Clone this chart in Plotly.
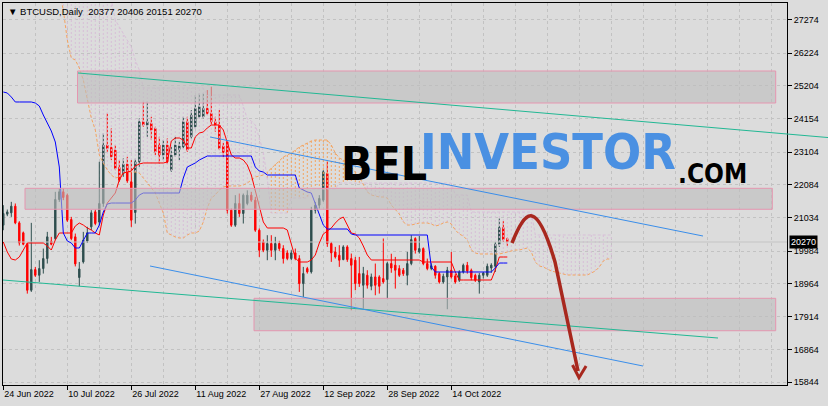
import pandas as pd
import plotly.graph_objects as go

# ---------------- data ----------------
start = pd.Timestamp("2022-06-24")

opens = [20800, 21148, 21190, 21400, 20874, 20560, 20200, 18747, 19400, 19220, 19432, 19748, 20295, 20379, 21611, 21853,
         21748, 20980, 20432, 19150, 19643, 20300, 20748, 21222, 20900, 21485, 23327, 23253, 23169, 22621, 22432, 22727,
         22169, 21200, 22800, 24063, 23958, 24011, 23853, 23327, 23011, 23327, 22537, 23011, 23190, 23274, 24063, 23590,
         23906, 24221, 24221, 24485, 24327, 24063, 23958, 23300, 23432, 21274, 20800, 21485, 21169, 21485, 21748, 21590,
         20643, 20274, 20011, 20221, 20011, 20221, 20064, 19927, 19748, 19927, 19748, 18958, 19432, 19327, 21274, 21432,
         21590, 22432, 20221, 19958, 19853, 19716, 20116, 19748, 19695, 19274, 18906, 19221, 18874, 19169, 19169, 19116,
         19085, 19590, 19540, 19431, 19380, 19220, 19589, 20379, 19958, 20063, 19589, 19431, 19505, 19273, 19010, 19168,
         19379, 19200, 19063, 19326, 19537, 19379, 19220, 19010, 19220, 19220, 19450, 19505, 20200, 20726, 20377]
highs = [21432, 21295, 21537, 21485, 20927, 20600, 20240, 20874, 19484, 19695, 20063, 20590, 20432, 21853, 21958, 21958,
         21800, 21063, 20537, 19640, 20590, 20750, 21274, 21295, 22800, 23695, 24327, 23853, 23327, 22853, 22906, 22958,
         22853, 22900, 24169, 24695, 24700, 24221, 23906, 23590, 23485, 23537, 23274, 23590, 23432, 24221, 24221, 24432,
         24906, 24958, 24958, 25064, 25170, 24221, 24432, 23400, 23485, 21327, 21748, 21800, 21800, 21900, 21853, 21695,
         20700, 20350, 20485, 20485, 20432, 20306, 20169, 20011, 20011, 20064, 19853, 19485, 19485, 21380, 21537, 21748,
         22537, 22800, 20274, 20116, 20169, 20169, 20169, 19906, 19800, 19800, 19485, 19380, 19274, 19590, 19221, 20380,
         19643, 19900, 19800, 19537, 19450, 19958, 20484, 20420, 20460, 20100, 19747, 19600, 19537, 19326, 19273, 19484,
         19958, 19270, 19379, 19589, 19642, 19431, 19273, 19294, 19326, 19589, 19600, 20273, 21010, 20926, 20406]
lows = [20642, 21084, 21063, 20832, 20158, 20168, 18642, 18695, 19168, 19011, 19274, 19590, 20168, 20327, 21537, 21590,
        20905, 20327, 19500, 18874, 19590, 20240, 20642, 20800, 20800, 21380, 23116, 22853, 22537, 22169, 22327, 22137,
        20748, 20850, 22643, 23906, 23590, 23485, 23011, 22748, 22853, 22727, 22485, 22958, 22853, 23221, 23116, 23537,
        23853, 24169, 24169, 24274, 23958, 23750, 23169, 22950, 21169, 20748, 20748, 21063, 20853, 21430, 21537, 20590,
        19800, 19950, 19695, 19800, 19695, 19990, 19590, 19695, 19695, 19695, 18695, 18537, 19274, 19274, 21169, 21327,
        21537, 20116, 19643, 19748, 19485, 19695, 19643, 18116, 18748, 18853, 18169, 18800, 18748, 18590, 18643, 18958,
        18485, 19300, 18800, 19168, 19200, 18905, 19537, 19905, 19905, 19537, 19378, 19380, 19115, 18957, 18957, 18150,
        19115, 18957, 19010, 19273, 19273, 19063, 19010, 18642, 19115, 19168, 19300, 19326, 20116, 20273, 20151]
closes = [21170, 21220, 21400, 20874, 20240, 20200, 18747, 19400, 19220, 19432, 19748, 20432, 20200, 21611, 21853, 21674,
          20958, 20379, 19580, 19420, 20327, 20560, 21190, 20853, 21485, 23327, 23221, 22958, 22590, 22222, 22727, 22200,
          20958, 22800, 24063, 23958, 24063, 23800, 23116, 23011, 23327, 22800, 23011, 23327, 23300, 24063, 23169, 24274,
          24485, 24537, 24485, 24327, 24063, 23958, 23221, 23100, 21274, 20800, 21485, 21169, 21748, 21748, 21590, 20643,
          20011, 20011, 20221, 20011, 20221, 20064, 19748, 19748, 19927, 19748, 18958, 19274, 19327, 21274, 21432, 21643,
          22485, 20221, 19927, 19800, 19695, 20116, 19716, 19537, 18958, 18958, 19274, 18906, 19169, 18906, 18874, 19011,
          19590, 19450, 19380, 19220, 19270, 19589, 20347, 20010, 20063, 19589, 19431, 19520, 19220, 19010, 19189, 19379,
          19168, 19010, 19326, 19537, 19357, 19147, 19063, 19220, 19294, 19505, 19540, 20200, 20726, 20347, 20270]

tenkan = ([20270, 19955, 19734, 19702, 19797, 20018, 20238, 20238, 20238, 20238, 20238, 20144, 20018, 20333, 20554,
           20554, 20554, 20554, 20775, 20869, 20806, 20712, 20649, 20554, 20491, 21122, 21500, 21658, 21816, 22226,
           22447, 22478, 22510, 22668, 22731] + [22763] * 6 +
          [22794, 23457, 23551, 23551, 23488, 23236, 23236, 23583, 23709, 23740, 23867, 23961, 23961, 23961, 23804,
           23425, 23015, 22920, 22920, 22857, 22699, 22384, 21911, 21374, 20901] + [20712] * 5 +
          [20649, 20175, 19765, 19639, 19639, 19639, 19702, 19860, 20238, 20522, 20617, 20712, 20869, 20995, 21059,
           20806, 20554, 20522, 20396, 20144, 19860] + [19702] * 13 + [19639] * 8 + [19324] + [19071] * 9 +
          [19387] + [19797] * 3)
kijun = ([25002, 24971, 24845] + [24687] * 5 +
         [24655, 24561, 24277, 24024, 23772, 23425, 22636, 20554, 20302, 20238, 20081, 20081, 20333] + [20554] * 3 +
         [20806, 21216, 21469] + [21500] * 6 + [21595, 21753] + [21816] * 10 +
         [22289, 22636, 22699, 22763, 22857, 22920] + [22983] * 12 + [22636, 22510, 22478] + [22384] * 8 +
         [21974, 21911, 21848, 21816, 21500, 21122, 20806] + [20680] * 6 + [20522] + [20491] * 19 + [19481] +
         [19324] * 15 + [19449] + [19607] * 3)

span_start = 14  # first cloud bar (index from 24 Jun 2022)
span_a = ([28200, 27590, 26643, 26075, 26012, 25760, 25381, 24750, 24182, 23804, 23015, 22763, 22542, 22384, 22289,
           22321, 22447] + [22478] * 3 +
          [22447, 22289, 22131, 21974, 21816, 21500, 21185, 20554, 20491, 20428, 20396, 20396, 20491, 20554, 20554,
           20617, 20901, 21343, 21658, 21753, 21911, 22005] + [22037] * 4 +
          [22068, 22131, 22226, 22321, 22352, 22384, 22478, 22605, 22731, 22826, 22952, 23015, 23078, 23173, 23267,
           23330, 23393, 23457] + [23488] * 4 +
          [23330, 23078, 22920, 22857, 22763, 22636, 22478, 22321, 22100, 21848, 21753, 21721, 21690, 21690, 21658,
           21437, 21280, 21153, 20901, 20806, 20806, 20838] + [20869] * 3 +
          [20838, 20775, 20806, 20869, 20901, 20838, 20649, 20522, 20459, 20333, 20018, 19923] + [19892] * 6 +
          [19923, 19955, 19986, 20018, 20018, 20049, 20081, 19955, 19639, 19513, 19481, 19418, 19355, 19324, 19292,
           19261] + [19229] * 6 + [19292, 19355, 19481, 19670, 19734, 19734])
span_b = ([27900] * 14 + [27274, 27053, 26832, 26611, 26422, 26012, 25697] + [25129] * 16 + [24908] * 9 +
          [24561, 24151, 24088, 23961, 23551, 23109, 22257] + [21185] * 5 + [21658] * 5 + [21942] * 7 +
          [22131] * 29 + [21753] * 4 + [21216] * 16 + [20491] * 20)

y_ticks = [15844, 16864, 17914, 18964, 19984, 21034, 22084, 23104, 24154, 25204, 26224, 27274]
x_tick_dates = ["2022-06-24", "2022-07-10", "2022-07-26", "2022-08-11", "2022-08-27", "2022-09-12", "2022-09-28",
                "2022-10-14"]
x_tick_labels = ["24 Jun 2022", "10 Jul 2022", "26 Jul 2022", "11 Aug 2022", "27 Aug 2022", "12 Sep 2022",
                 "28 Sep 2022", "14 Oct 2022"]

# zones (x0 day, x1 day, price low, price high) and trend lines (day, price, day, price)
zones = [(18.55, 193.1, 24655, 25665), (5.425, 192.25, 21302, 21964), (62.675, 193.1, 17471, 18494)]
green_lines = [(18.675, 25602, 195.925, 23677), (-0.075, 19071, 178.675, 17241)]
blue_lines = [(51.675, 23583, 174.925, 20459), (36.675, 19513, 159.925, 16358)]
arrow_curve = [(127.175, 20238), (128.675, 20712), (130.425, 21153), (132.175, 21090), (134.175, 21027),
               (136.175, 20396), (137.925, 19639), (143.675, 16201)]
arrow_head = [(142.3, 16390), (143.925, 15990), (145.7, 16360)]

y_min, y_max = 15759, 27810
x_lo, x_hi = -0.075, 195.925

# ---------------- helpers ----------------
def day(i):
    return start + pd.Timedelta(days=i)

def dstr(i):
    return day(i).strftime("%Y-%m-%d %H:%M:%S")

def pstr(i):
    return day(i).strftime("%Y-%m-%d_%H:%M:%S")

dates = pd.date_range(start, periods=len(opens), freq="D")
cloud_dates = pd.date_range(day(span_start), periods=len(span_a), freq="D")

fig = go.Figure()

# cloud hatch
hx_up, hy_up, hx_dn, hy_dn = [], [], [], []
for d, a, b in zip(cloud_dates, span_a, span_b):
    if a >= b:
        hx_up += [d, d, None]
        hy_up += [a, b, None]
    else:
        hx_dn += [d, d, None]
        hy_dn += [a, b, None]
fig.add_trace(go.Scatter(x=hx_up, y=hy_up, mode="lines", line=dict(color="#F4A460", width=1, dash="2px,2px"),
                         hoverinfo="skip", showlegend=False))
fig.add_trace(go.Scatter(x=hx_dn, y=hy_dn, mode="lines", line=dict(color="#D8BFD8", width=1, dash="2px,2px"),
                         hoverinfo="skip", showlegend=False))
fig.add_trace(go.Scatter(x=cloud_dates, y=span_a, mode="lines", line=dict(color="#F4A460", width=1, dash="3px,2px"),
                         hoverinfo="skip", showlegend=False))
fig.add_trace(go.Scatter(x=cloud_dates, y=span_b, mode="lines", line=dict(color="#D8BFD8", width=1, dash="3px,2px"),
                         hoverinfo="skip", showlegend=False))

# bid line
fig.add_trace(go.Scatter(x=[day(x_lo), day(x_hi)], y=[closes[-1]] * 2, mode="lines",
                         line=dict(color="#C4C4C4", width=1), hoverinfo="skip", showlegend=False))

fig.add_trace(go.Candlestick(
    x=dates, open=opens, high=highs, low=lows, close=closes,
    increasing=dict(line=dict(color="#2F4F4F", width=1), fillcolor="#2F4F4F"),
    decreasing=dict(line=dict(color="#FF0000", width=1), fillcolor="#FF0000"),
    whiskerwidth=0, hoverinfo="skip", showlegend=False))

fig.add_trace(go.Scatter(x=dates, y=tenkan, mode="lines", line=dict(color="#FF0000", width=1),
                         hoverinfo="skip", showlegend=False))
fig.add_trace(go.Scatter(x=dates, y=kijun, mode="lines", line=dict(color="#0000FF", width=1),
                         hoverinfo="skip", showlegend=False))

shapes = []
for x0, x1, p0, p1 in zones:
    shapes.append(dict(type="rect", xref="x", yref="y", x0=dstr(x0), x1=dstr(x1), y0=p0, y1=p1,
                       fillcolor="rgba(188,188,188,0.6)", line=dict(color="#E596B0", width=1), layer="above"))
for x0, p0, x1, p1 in green_lines:
    shapes.append(dict(type="line", xref="x", yref="y", x0=dstr(x0), y0=p0, x1=dstr(x1), y1=p1,
                       line=dict(color="#22B894", width=1), layer="above"))
for x0, p0, x1, p1 in blue_lines:
    shapes.append(dict(type="line", xref="x", yref="y", x0=dstr(x0), y0=p0, x1=dstr(x1), y1=p1,
                       line=dict(color="#3A8EEA", width=1), layer="above"))

# extension of the upper green line over the price scale (drawn in paper space)
gx0, gp0, gx1, gp1 = green_lines[0]
slope = (gp1 - gp0) / (gx1 - gx0)
ext_days = 41 / 4.0
p_edge = gp1
p_far = gp1 + slope * ext_days
span_days = x_hi - x_lo
shapes.append(dict(type="line", xref="paper", yref="paper", x0=1.0, x1=1.0 + ext_days / span_days,
                   y0=(p_edge - y_min) / (y_max - y_min), y1=(p_far - y_min) / (y_max - y_min),
                   line=dict(color="#22B894", width=1)))

# arrow
c = arrow_curve
path = (f"M {pstr(c[0][0])},{c[0][1]} C {pstr(c[1][0])},{c[1][1]} {pstr(c[2][0])},{c[2][1]} {pstr(c[3][0])},{c[3][1]} "
        f"C {pstr(c[4][0])},{c[4][1]} {pstr(c[5][0])},{c[5][1]} {pstr(c[6][0])},{c[6][1]} L {pstr(c[7][0])},{c[7][1]}")
shapes.append(dict(type="path", xref="x", yref="y", path=path, line=dict(color="#A8281E", width=3.5), layer="above"))
h = arrow_head
shapes.append(dict(type="path", xref="x", yref="y",
                   path=f"M {pstr(h[0][0])},{h[0][1]} L {pstr(h[1][0])},{h[1][1]} L {pstr(h[2][0])},{h[2][1]}",
                   line=dict(color="#A8281E", width=3), layer="above"))

def px_x(px):
    return (px - 3) / 784.0

def px_y(py):
    return (385 - py) / 382.0

nb = "\u00a0"
header = f"▼{nb}BTCUSD,Daily{nb}{nb}{opens[-1]}{nb}{highs[-1]}{nb}{lows[-1]}{nb}{closes[-1]}"
wm_font = "Liberation Sans Narrow, DejaVu Sans Condensed, sans-serif"

annotations = [
    dict(text=header, xref="paper", yref="paper", x=px_x(6), y=px_y(11), xanchor="left", yanchor="middle",
         showarrow=False, font=dict(family="Liberation Sans, Arial, sans-serif", size=9.5, color="black")),
    dict(text=str(closes[-1]), xref="paper", yref="y", x=px_x(789), y=closes[-1], xanchor="left", yanchor="middle",
         showarrow=False, bgcolor="black", borderpad=1,
         font=dict(family="Liberation Sans, Arial, sans-serif", size=9, color="white")),
    dict(text="<b>BEL</b>", xref="paper", yref="paper", x=px_x(339), y=px_y(164), xanchor="left", yanchor="middle",
         showarrow=False, font=dict(family=wm_font, size=46, color="black")),
    dict(text="<b>INVESTOR</b>", xref="paper", yref="paper", x=px_x(418), y=px_y(152), xanchor="left",
         yanchor="middle", showarrow=False, font=dict(family=wm_font, size=50, color="#4A90E2")),
    dict(text="<b>.COM</b>", xref="paper", yref="paper", x=px_x(676), y=px_y(174), xanchor="left", yanchor="middle",
         showarrow=False, font=dict(family=wm_font, size=26, color="black")),
]

minor_vals = [dstr(8 * k) for k in range(0, 25)]
grid_col = "#C2C2C2"

fig.update_layout(
    width=828, height=406,
    margin=dict(l=3, r=41, t=3, b=21, autoexpand=False),
    paper_bgcolor="#DCDCDC", plot_bgcolor="#DCDCDC",
    showlegend=False, boxgap=0.5,
    shapes=shapes, annotations=annotations,
    font=dict(family="Liberation Sans, Arial, sans-serif", size=9, color="black"),
    xaxis=dict(type="date", range=[dstr(x_lo), dstr(x_hi)], rangeslider=dict(visible=False),
               tickmode="array", tickvals=x_tick_dates, ticktext=x_tick_labels,
               ticks="outside", ticklen=4, tickcolor="black", ticklabelposition="outside right",
               showline=True, linecolor="black", linewidth=1, mirror=True,
               showgrid=True, gridcolor=grid_col, griddash="3px,3px", gridwidth=1, zeroline=False,
               automargin=False, tickfont=dict(size=9, color="black"),
               minor=dict(tickmode="array", tickvals=minor_vals, showgrid=True, gridcolor=grid_col,
                          griddash="3px,3px", ticks="")),
    yaxis=dict(range=[y_min, y_max], side="right", tickmode="array", tickvals=y_ticks,
               ticktext=[str(v) for v in y_ticks], ticks="outside", ticklen=4, tickcolor="black",
               showline=True, linecolor="black", linewidth=1, mirror=True,
               showgrid=True, gridcolor=grid_col, griddash="3px,3px", gridwidth=1, zeroline=False,
               automargin=False, tickfont=dict(size=9, color="black")),
)

fig.write_html("out.html", config={"displayModeBar": False},
               post_script="document.body.style.margin='0';document.body.style.overflow='hidden';")
